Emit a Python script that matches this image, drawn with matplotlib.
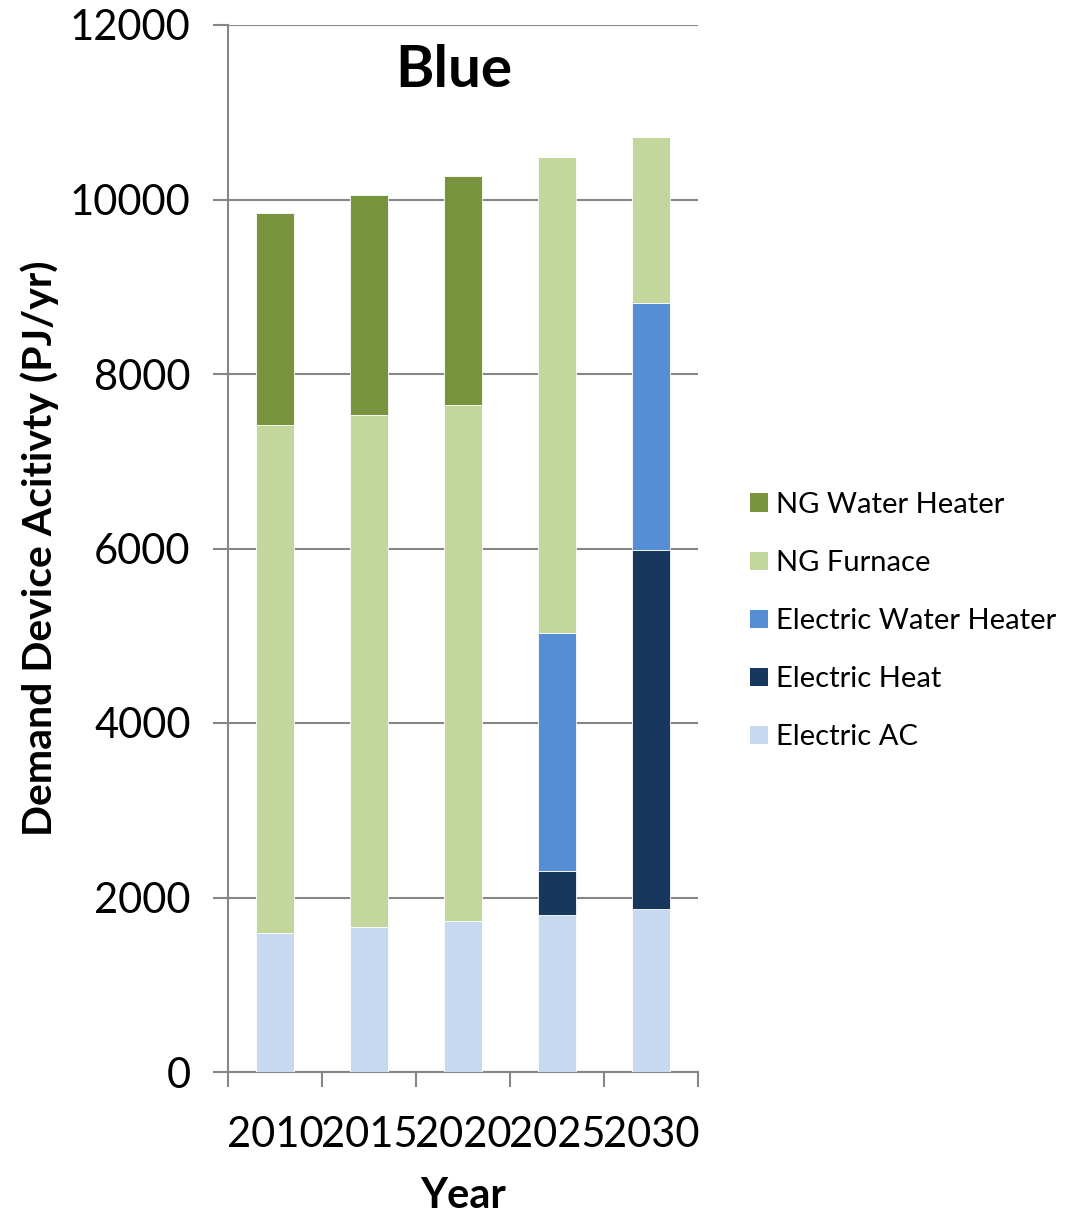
import matplotlib
matplotlib.use("Agg")
import matplotlib.pyplot as plt
import numpy as np
from matplotlib.patches import Patch

years = ["2010", "2015", "2020", "2025", "2030"]
electric_ac = [1590, 1660, 1730, 1800, 1870]
electric_heat = [0, 0, 0, 505, 4115]
electric_water_heater = [0, 0, 0, 2725, 2830]
ng_furnace = [5825, 5870, 5915, 5455, 1900]
ng_water_heater = [2430, 2520, 2625, 0, 0]

series = [
    ("Electric AC", electric_ac, "#C6D9F1"),
    ("Electric Heat", electric_heat, "#17375E"),
    ("Electric Water Heater", electric_water_heater, "#558ED5"),
    ("NG Furnace", ng_furnace, "#C3D69B"),
    ("NG Water Heater", ng_water_heater, "#77933C"),
]

plt.rcParams['font.family'] = ['Lato', 'DejaVu Sans']
grey = "#868686"

fig = plt.figure(figsize=(10.67, 12.13), dpi=100)
ax = fig.add_axes([228/1067, 1 - 1072/1213, 470/1067, 1047/1213])

x = np.arange(len(years))
bottom = np.zeros(len(years))
handles = []
for name, vals, col in series:
    v = np.array(vals, dtype=float)
    ax.bar(x, v, 0.4, bottom=bottom, color=col, edgecolor="white", linewidth=0.6, zorder=3)
    bottom += v
    handles.append(Patch(facecolor=col, edgecolor='none', label=name))

ax.set_xlim(-0.5, 4.5)
ax.set_ylim(0, 12000)
ax.set_yticks(np.arange(0, 12001, 2000))
ax.set_yticklabels([str(v) for v in range(0, 12001, 2000)], fontsize=30)
ax.yaxis.grid(True, color=grey, linewidth=1.5, zorder=0)
ax.set_axisbelow(True)

ax.set_xticks(np.arange(-0.5, 4.6, 1.0))
ax.set_xticklabels([])
ax.set_xticks(x, minor=True)
ax.set_xticklabels(years, minor=True, fontsize=30)
ax.tick_params(axis='x', which='major', length=11, width=1.5, color=grey, direction='out')
ax.tick_params(axis='x', which='minor', length=0, pad=32)
ax.tick_params(axis='y', length=11, width=1.5, color=grey, pad=16)

for s in ['top', 'right']:
    ax.spines[s].set_visible(False)
for s in ['left', 'bottom']:
    ax.spines[s].set_color(grey)
    ax.spines[s].set_linewidth(1.5)

ax.text(0.48, 0.982, "Blue", transform=ax.transAxes, ha='center', va='top',
        fontsize=42, fontweight='bold')

ax.set_xlabel("Year", fontsize=30, fontweight='bold', labelpad=16)
ax.set_ylabel("Demand Device Acitivty (PJ/yr)", fontsize=29.5, fontweight='bold', labelpad=8)

fig.legend(handles=handles[::-1], loc='upper left', bbox_to_anchor=(750/1067, 1 - 492/1213),
           frameon=False, fontsize=21, handlelength=0.6, handleheight=0.6,
           handletextpad=0.3, labelspacing=1.10, borderpad=0, borderaxespad=0)

fig.savefig("out.png", dpi=100)
